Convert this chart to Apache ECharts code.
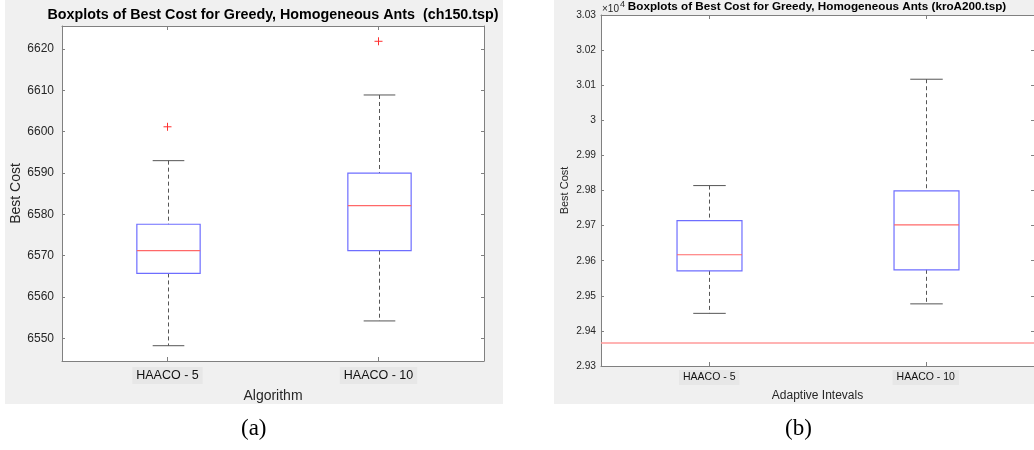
<!DOCTYPE html>
<html>
<head>
<meta charset="utf-8">
<style>
  html, body { margin: 0; padding: 0; background: #ffffff; }
  #chart { width: 1034px; height: 450px; }
</style>
<script src="https://cdn.jsdelivr.net/npm/echarts@6/dist/echarts.min.js"></script>
</head>
<body>
<div id="chart"></div>
<script>
// Algorithm / interval labels shared by both panels
const categories = ['HAACO - 5', 'HAACO - 10'];

// ch150.tsp: [lower whisker, Q1, median, Q3, upper whisker] per algorithm
const ch150Boxes = [
  [6548.2, 6565.7, 6571.2, 6577.6, 6593.0],
  [6554.2, 6571.2, 6582.1, 6590.0, 6608.9]
];
// ch150.tsp outliers: [category index, cost]
const ch150Outliers = [
  [0, 6601.2],
  [1, 6621.9]
];
const ch150Ticks = [6550, 6560, 6570, 6580, 6590, 6600, 6610, 6620];

// kroA200.tsp: [lower whisker, Q1, median, Q3, upper whisker] per interval
const kroA200Boxes = [
  [29450, 29571, 29617, 29714, 29814],
  [29477, 29574, 29702, 29799, 30117]
];
// kroA200.tsp reference cost (horizontal line)
const kroA200Reference = 29367;

const BOX_BLUE = '#6e6eff';
const MEDIAN_RED = '#ff6868';
const WHISKER = '#555555';
const AXIS_GRAY = '#808080';
const TEXT = '#262626';
const FONT = 'Liberation Sans, Arial, sans-serif';

function boxData(boxes) {
  return boxes.map((b, i) => [i].concat(b));
}

// MATLAB-style box: blue box, red median, dashed whiskers with solid caps
function renderBox(params, api) {
  const idx = api.value(0);
  const lo = api.coord([idx, api.value(1)]);
  const q1 = api.coord([idx, api.value(2)]);
  const med = api.coord([idx, api.value(3)]);
  const q3 = api.coord([idx, api.value(4)]);
  const hi = api.coord([idx, api.value(5)]);
  const band = api.size([1, 0])[0];
  const half = band * 0.15;
  const capHalf = band * 0.075;
  const x = Math.round(lo[0]) + 0.5;
  const dashed = { stroke: WHISKER, lineWidth: 1, lineDash: [4, 3] };
  const solid = { stroke: WHISKER, lineWidth: 1 };
  return {
    type: 'group',
    children: [
      { type: 'line', shape: { x1: x, y1: hi[1], x2: x, y2: q3[1] }, style: dashed },
      { type: 'line', shape: { x1: x, y1: q1[1], x2: x, y2: lo[1] }, style: dashed },
      { type: 'line', shape: { x1: x - capHalf, y1: hi[1], x2: x + capHalf, y2: hi[1] }, style: solid },
      { type: 'line', shape: { x1: x - capHalf, y1: lo[1], x2: x + capHalf, y2: lo[1] }, style: solid },
      { type: 'rect', shape: { x: x - half, y: q3[1], width: 2 * half, height: q1[1] - q3[1] },
        style: { fill: 'none', stroke: BOX_BLUE, lineWidth: 1.2 } },
      { type: 'line', shape: { x1: x - half, y1: med[1], x2: x + half, y2: med[1] },
        style: { stroke: MEDIAN_RED, lineWidth: 1.2 } }
    ]
  };
}

// Red '+' outlier markers
function renderOutlier(params, api) {
  const p = api.coord([api.value(0), api.value(1)]);
  const r = 4;
  const st = { stroke: '#ff3030', lineWidth: 1 };
  return {
    type: 'group',
    children: [
      { type: 'line', shape: { x1: p[0] - r, y1: p[1], x2: p[0] + r, y2: p[1] }, style: st },
      { type: 'line', shape: { x1: p[0], y1: p[1] - r, x2: p[0], y2: p[1] + r }, style: st }
    ]
  };
}

function catAxis(gridIndex, position, opts) {
  return Object.assign({
    type: 'category',
    gridIndex: gridIndex,
    position: position,
    data: categories,
    boundaryGap: true,
    axisLine: { show: true, onZero: false, lineStyle: { color: AXIS_GRAY, width: 1 } },
    axisTick: { show: true, inside: true, alignWithLabel: true, length: 4, lineStyle: { color: AXIS_GRAY } },
    axisLabel: { show: false },
    splitLine: { show: false }
  }, opts || {});
}

function valAxis(gridIndex, position, opts) {
  return Object.assign({
    type: 'value',
    gridIndex: gridIndex,
    position: position,
    axisLine: { show: true, onZero: false, lineStyle: { color: AXIS_GRAY, width: 1 } },
    axisTick: { show: true, inside: true, length: 3, lineStyle: { color: AXIS_GRAY } },
    axisLabel: { show: false },
    splitLine: { show: false }
  }, opts || {});
}

const chart = echarts.init(document.getElementById('chart'), null, { renderer: 'canvas' });

const option = {
  backgroundColor: '#ffffff',
  animation: false,
  graphic: [
    { type: 'rect', z: -10, shape: { x: 5, y: 0, width: 498, height: 404 }, style: { fill: '#f0f0f0' } },
    { type: 'rect', z: -10, shape: { x: 554, y: 0, width: 480, height: 404 }, style: { fill: '#f0f0f0' } },
    // axis exponent: ×10^4
    { type: 'text', left: 602, top: 4, style: { text: '×10', fill: TEXT, font: '10px ' + FONT } },
    { type: 'text', left: 620, top: 0, style: { text: '4', fill: TEXT, font: '9px ' + FONT } },
    { type: 'text', left: 241, top: 417, style: { text: '(a)', fill: '#000', font: '23px Liberation Serif, serif' } },
    { type: 'text', left: 785, top: 417, style: { text: '(b)', fill: '#000', font: '23px Liberation Serif, serif' } }
  ],
  title: [
    { text: 'Boxplots of Best Cost for Greedy, Homogeneous Ants  (ch150.tsp)', left: 268, top: 3, textAlign: 'center',
      textStyle: { fontFamily: FONT, fontSize: 14.3, fontWeight: 'bold', color: '#000' } },
    { text: 'Boxplots of Best Cost for Greedy, Homogeneous Ants (kroA200.tsp)', left: 812, top: -4, textAlign: 'center',
      textStyle: { fontFamily: FONT, fontSize: 11.7, fontWeight: 'bold', color: '#000' } }
  ],
  grid: [
    { left: 62, top: 26, width: 422, height: 335, show: true, backgroundColor: '#ffffff', borderWidth: 0 },
    { left: 601, top: 15, width: 433, height: 351, show: true, backgroundColor: '#ffffff', borderWidth: 0 }
  ],
  xAxis: [
    catAxis(0, 'bottom', {
      name: 'Algorithm', nameLocation: 'middle', nameGap: 26,
      nameTextStyle: { fontFamily: FONT, fontSize: 14, color: TEXT },
      axisLabel: { show: true, interval: 0, margin: 6, fontFamily: FONT, fontSize: 12.5, color: '#111',
        backgroundColor: '#e7e7e7', padding: [2, 4] }
    }),
    catAxis(0, 'top'),
    catAxis(1, 'bottom', {
      name: 'Adaptive Intevals', nameLocation: 'middle', nameGap: 22,
      nameTextStyle: { fontFamily: FONT, fontSize: 12, color: TEXT },
      axisLabel: { show: true, interval: 0, margin: 4, fontFamily: FONT, fontSize: 10.5, color: '#111',
        backgroundColor: '#e7e7e7', padding: [2, 4] }
    }),
    catAxis(1, 'top')
  ],
  yAxis: [
    valAxis(0, 'left', {
      min: 6544.5, max: 6625.6,
      name: 'Best Cost', nameLocation: 'middle', nameGap: 39,
      nameTextStyle: { fontFamily: FONT, fontSize: 14, color: TEXT },
      axisTick: { show: true, inside: true, length: 3, customValues: ch150Ticks, lineStyle: { color: AXIS_GRAY } },
      axisLabel: { show: true, margin: 8, customValues: ch150Ticks, fontFamily: FONT, fontSize: 12, color: TEXT,
        formatter: v => String(v) }
    }),
    valAxis(0, 'right', {
      min: 6544.5, max: 6625.6,
      axisTick: { show: true, inside: true, length: 3, customValues: ch150Ticks, lineStyle: { color: AXIS_GRAY } }
    }),
    valAxis(1, 'left', {
      min: 29300, max: 30300, interval: 100,
      name: 'Best Cost', nameLocation: 'middle', nameGap: 31,
      nameTextStyle: { fontFamily: FONT, fontSize: 11, color: TEXT },
      axisLabel: { show: true, margin: 5, fontFamily: FONT, fontSize: 10.2, color: TEXT,
        formatter: v => String(parseFloat((v / 1e4).toFixed(2))) }
    }),
    valAxis(1, 'right', { min: 29300, max: 30300, interval: 100 })
  ],
  series: [
    {
      type: 'custom', name: 'ch150', xAxisIndex: 0, yAxisIndex: 0,
      renderItem: renderBox, data: boxData(ch150Boxes),
      encode: { x: 0, y: [1, 2, 3, 4, 5] }, silent: true
    },
    {
      type: 'custom', name: 'ch150 outliers', xAxisIndex: 0, yAxisIndex: 0,
      renderItem: renderOutlier, data: ch150Outliers,
      encode: { x: 0, y: 1 }, silent: true
    },
    {
      type: 'custom', name: 'kroA200', xAxisIndex: 2, yAxisIndex: 2,
      renderItem: renderBox, data: boxData(kroA200Boxes),
      encode: { x: 0, y: [1, 2, 3, 4, 5] }, silent: true,
      markLine: {
        silent: true, symbol: 'none', label: { show: false },
        lineStyle: { color: '#ff9a9a', width: 1.6, type: 'solid' },
        data: [{ yAxis: kroA200Reference }]
      }
    }
  ]
};

chart.setOption(option);
</script>
</body>
</html>
